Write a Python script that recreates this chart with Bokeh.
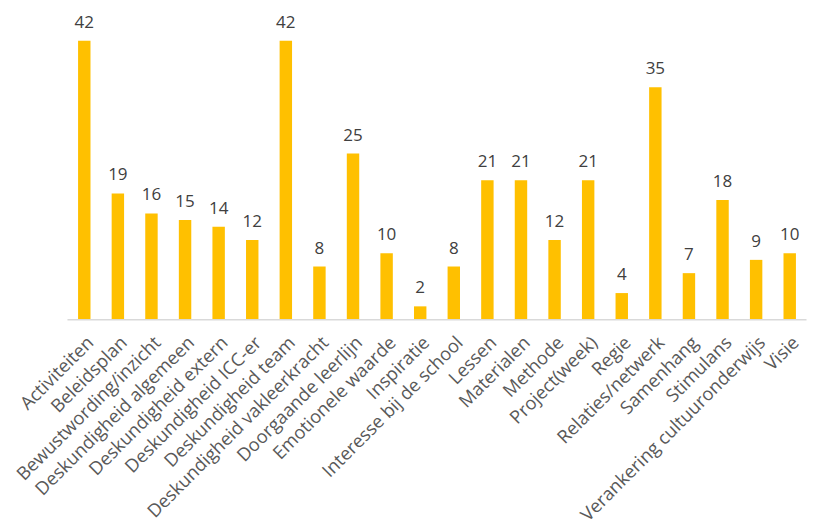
import math
from bokeh.plotting import figure
from bokeh.models import ColumnDataSource, Range1d
from bokeh.core.properties import value
from bokeh.embed import file_html
from bokeh.resources import INLINE

categories = ["Activiteiten", "Beleidsplan", "Bewustwording/inzicht", "Deskundigheid algemeen",
              "Deskundigheid extern", "Deskundigheid ICC-er", "Deskundigheid team",
              "Deskundigheid vakleerkracht", "Doorgaande leerlijn", "Emotionele waarde",
              "Inspiratie", "Interesse bij de school", "Lessen", "Materialen", "Methode",
              "Project(week)", "Regie", "Relaties/netwerk", "Samenhang", "Stimulans",
              "Verankering cultuuronderwijs", "Visie"]
values = [42, 19, 16, 15, 14, 12, 42, 8, 25, 10, 2, 8, 21, 21, 12, 21, 4, 35, 7, 18, 9, 10]

n = len(categories)
idx = list(range(n))
source = ColumnDataSource(data=dict(x=idx, cat=categories, val=values, zero=[0] * n,
                                    lbl=[str(v) for v in values]))

p = figure(width=826, height=531, output_backend="svg", toolbar_location=None,
           min_border_left=0, min_border_right=0, min_border_top=5, min_border_bottom=0)
p.x_range = Range1d(-0.5 - 1.994, n - 0.5 + 0.595)
p.y_range = Range1d(-31.9, 47.3)

p.vbar(x="x", bottom=0, top="val", width=0.37, source=source, color="#FFC000", line_color=None)

# value labels
p.text(x="x", y="val", text="lbl", source=source, y_offset=-13,
       text_align="center", text_baseline="bottom",
       text_font=value("Open Sans"), text_font_size="17px", text_color="#404040")

# category axis baseline
p.segment(x0=[-0.5], y0=[0], x1=[n - 0.5], y1=[0], line_color="#D9D9D9", line_width=1.5)

# category labels
p.text(x="x", y="zero", text="cat", source=source, x_offset=5, y_offset=19,
       angle=math.pi / 4, text_align="right", text_baseline="middle",
       text_font=value("Open Sans"), text_font_size="18.3px", text_color="#595959")

p.xaxis.visible = False
p.yaxis.visible = False
p.xgrid.grid_line_color = None
p.ygrid.grid_line_color = None
p.outline_line_color = None

open("out.html", "w").write(file_html(p, INLINE))
